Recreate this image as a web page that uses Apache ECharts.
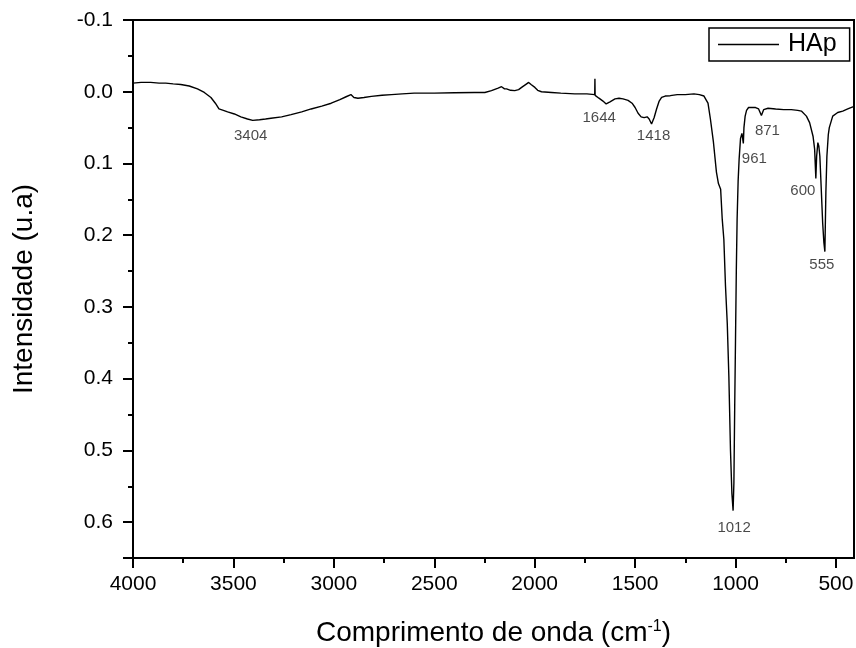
<!DOCTYPE html>
<html>
<head>
<meta charset="utf-8">
<script src="https://cdn.jsdelivr.net/npm/echarts@6/dist/echarts.min.js"></script>
<style>
html,body{margin:0;padding:0;background:#fff;}
#chart{width:856px;height:648px;}
</style>
</head>
<body>
<div id="chart"></div>
<script>
// espectro FTIR (número de onda, intensidade)
var wavenumber = [4000,3960,3912,3870,3837,3800,3762,3720,3679,3645,3612,3590,3572,3550,3529,3495,3463,3430,3404,3370,3340,3313,3260,3213,3160,3113,3060,3013,2970,2939,2915,2900,2880,2850,2813,2760,2713,2660,2600,2500,2400,2300,2248,2215,2182,2165,2157,2150,2140,2120,2099,2080,2065,2040,2030,2018,1999,1985,1966,1916,1870,1800,1740,1701,1700,1699,1680,1660,1644,1625,1600,1580,1560,1535,1515,1500,1485,1470,1455,1440,1430,1418,1405,1393,1380,1368,1350,1325,1290,1250,1207,1180,1157,1145,1137,1125,1110,1095,1085,1074,1066,1058,1050,1041,1033,1025,1018,1012,1008,1004,1000,996,992,987,982,975,968,961,958,952,945,935,925,900,885,871,860,838,800,760,722,690,672,647,631,614,606,600,596,590,585,580,573,566,560,555,550,545,538,533,516,491,466,441,416,410];
var intensity = [-0.012,-0.013,-0.013,-0.012,-0.012,-0.011,-0.010,-0.008,-0.004,0.001,0.008,0.016,0.024,0.026,0.028,0.031,0.035,0.038,0.040,0.039,0.038,0.037,0.035,0.032,0.028,0.024,0.020,0.016,0.011,0.007,0.004,0.008,0.009,0.008,0.0065,0.005,0.004,0.003,0.002,0.002,0.0015,0.001,0.001,-0.0015,-0.005,-0.007,-0.009,-0.004,-0.004,-0.002,-0.0015,-0.003,-0.006,-0.011,-0.013,-0.010,-0.006,-0.002,0.000,0.001,0.002,0.003,0.003,0.004,-0.018,0.005,0.009,0.013,0.017,0.014,0.010,0.009,0.010,0.012,0.016,0.022,0.030,0.035,0.036,0.035,0.038,0.045,0.036,0.024,0.013,0.008,0.006,0.0055,0.004,0.004,0.003,0.004,0.006,0.012,0.016,0.038,0.070,0.112,0.128,0.136,0.178,0.206,0.270,0.323,0.398,0.500,0.560,0.584,0.545,0.440,0.346,0.250,0.178,0.125,0.094,0.065,0.058,0.072,0.050,0.034,0.026,0.022,0.022,0.022,0.024,0.033,0.025,0.023,0.024,0.025,0.025,0.026,0.027,0.034,0.043,0.062,0.080,0.121,0.090,0.071,0.076,0.090,0.136,0.183,0.210,0.223,0.140,0.090,0.060,0.050,0.034,0.029,0.027,0.024,0.021,0.020];

// bandas marcadas
var peakWn = [3404,1644,1418,1012,961,871,600,555];
var peakVal = [0.040,0.017,0.045,0.584,0.072,0.033,0.121,0.223];

var xMajorTicks = [4000,3500,3000,2500,2000,1500,1000,500];
var xMinorTicks = [3750,3250,2750,2250,1750,1250,750];

var font = "'Liberation Sans', Arial, sans-serif";

var spectrum = wavenumber.map(function(w,i){return [w,intensity[i]];});

// deslocamento dos rótulos em relação ao pico (px)
var labelOffset = {3404:[-2,15],1644:[-7,14],1418:[2,12],1012:[1,17],961:[11,15],871:[6,15],600:[-13,12],555:[-3,13]};
var peaks = peakWn.map(function(w,i){
    return {value:[w,peakVal[i]],label:{offset:labelOffset[w]}};
});

var chart = echarts.init(document.getElementById('chart'));
var option = {
    animation:false,
    backgroundColor:'#fff',
    grid:{left:133,right:2,top:20,bottom:90,outerBoundsMode:'none',containLabel:false,show:true,borderColor:'#000',borderWidth:2,backgroundColor:'transparent'},
    legend:{
        data:['HAp'],
        left:709,top:28,
        orient:'vertical',
        icon:'rect',
        itemWidth:61,itemHeight:1.5,
        padding:[4,13,4,9],
        borderColor:'#000',borderWidth:1.5,
        textStyle:{fontFamily:font,fontSize:25,color:'#000',padding:[0,0,0,4]}
    },
    xAxis:[{
        type:'value',
        inverse:true,
        min:410,max:4000,
        position:'bottom',
        name:'Comprimento de onda (cm{sup|-1})',
        nameLocation:'middle',
        nameGap:61,
        nameTextStyle:{fontFamily:font,fontSize:28,color:'#000',rich:{sup:{fontFamily:font,fontSize:16,color:'#000',verticalAlign:'top',padding:[0,0,10,0]}}},
        axisLine:{show:true,onZero:false,lineStyle:{color:'#000',width:2}},
        axisTick:{show:true,customValues:xMajorTicks,length:10,lineStyle:{color:'#000',width:2}},
        axisLabel:{customValues:xMajorTicks,fontFamily:font,fontSize:21,color:'#000',margin:16,
            formatter:function(v){return String(v);}},
        splitLine:{show:false}
    },{
        type:'value',
        inverse:true,
        min:410,max:4000,
        position:'bottom',
        axisLine:{show:false,onZero:false},
        axisTick:{show:true,customValues:xMinorTicks,length:5,lineStyle:{color:'#000',width:2}},
        axisLabel:{show:false},
        splitLine:{show:false}
    }],
    yAxis:[{
        type:'value',
        inverse:true,
        min:-0.1,max:0.65,interval:0.1,
        position:'left',
        name:'Intensidade (u.a)',
        nameLocation:'middle',
        nameGap:95,
        nameTextStyle:{fontFamily:font,fontSize:28,color:'#000'},
        axisLine:{show:true,onZero:false,lineStyle:{color:'#000',width:2}},
        axisTick:{show:true,length:10,lineStyle:{color:'#000',width:2}},
        axisLabel:{
            fontFamily:font,fontSize:21,color:'#000',margin:20,
            formatter:function(v){
                if(Math.abs(v*10-Math.round(v*10))>1e-6) return '';
                return v.toFixed(1);
            }
        },
        splitLine:{show:false}
    },{
        type:'value',
        inverse:true,
        min:-0.1,max:0.65,interval:0.05,
        position:'left',
        axisLine:{show:false,onZero:false},
        axisTick:{show:true,length:5,lineStyle:{color:'#000',width:2}},
        axisLabel:{show:false},
        splitLine:{show:false}
    }],
    series:[{
        name:'HAp',
        type:'line',
        data:spectrum,
        showSymbol:false,
        symbol:'none',
        lineStyle:{color:'#000',width:1.4},
        itemStyle:{color:'#000'}
    },{
        name:'picos',
        type:'scatter',
        data:peaks,
        symbolSize:1,
        itemStyle:{color:'rgba(0,0,0,0)'},
        silent:true,
        label:{show:true,position:'inside',fontFamily:font,fontSize:15,color:'#1a1a1a',
            formatter:function(p){return String(p.value[0]);}}
    }]
};
chart.setOption(option);
</script>
</body>
</html>
